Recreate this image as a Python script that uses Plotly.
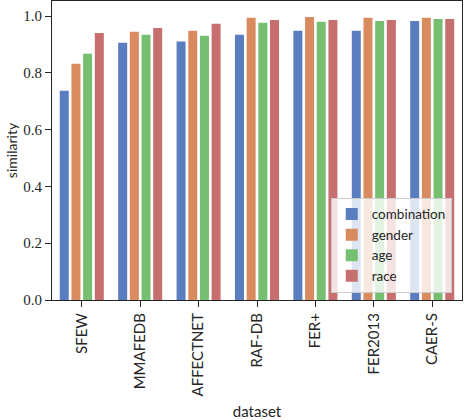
import plotly.graph_objects as go

# similarity per dataset, one list per attribute
datasets = ["SFEW", "MMAFEDB", "AFFECTNET", "RAF-DB", "FER+", "FER2013", "CAER-S"]
combination = [0.737, 0.906, 0.910, 0.934, 0.948, 0.948, 0.983]
gender = [0.832, 0.945, 0.948, 0.994, 0.997, 0.994, 0.994]
age = [0.867, 0.934, 0.931, 0.976, 0.980, 0.983, 0.990]
race = [0.940, 0.958, 0.973, 0.986, 0.986, 0.986, 0.990]

series = [("combination", combination, "#597dbf"),
          ("gender", gender, "#d98b5f"),
          ("age", age, "#76bf71"),
          ("race", race, "#c76e6e")]

sans = "Lato"
serif = "Liberation Serif"

fig = go.Figure()
for name, vals, col in series:
    fig.add_trace(go.Bar(x=datasets, y=vals, name=name,
                         marker=dict(color=col, line=dict(width=0))))

fig.update_layout(
    template="none",
    width=464, height=420,
    margin=dict(l=52, r=2, t=1, b=120),
    paper_bgcolor="white", plot_bgcolor="white",
    barmode="group", bargap=0.2, bargroupgap=0.23,
    font=dict(family=sans, size=14, color="#262626"),
    legend=dict(x=0.975, y=0.024, xanchor="right", yanchor="bottom",
                itemwidth=30,
                bgcolor="rgba(255,255,255,0.8)", bordercolor="#cccccc",
                borderwidth=1, font=dict(family=sans, size=13.5, color="#262626")),
    showlegend=True,
)

fig.update_xaxes(
    range=[-0.51, 6.51], showgrid=False, zeroline=False, automargin=False,
    showline=True, linecolor="#262626", linewidth=1.2, mirror=True,
    ticks="outside", ticklen=6, tickwidth=1.2, tickcolor="#262626",
    tickangle=-90, tickfont=dict(family=sans, size=15, color="#262626"),
    title=dict(text="dataset", font=dict(family=sans, size=15, color="#262626"), standoff=19),
)
fig.update_yaxes(
    range=[0, 1.053], showgrid=False, zeroline=False, automargin=False,
    showline=True, linecolor="#262626", linewidth=1.2, mirror=True,
    ticks="outside", ticklen=6, tickwidth=1.2, tickcolor="#262626",
    tickvals=[0, 0.2, 0.4, 0.6, 0.8, 1.0], tickformat=".1f",
    tickfont=dict(family=serif, size=15, color="#262626"),
    title=dict(text="similarity", font=dict(family=sans, size=14, color="#262626"), standoff=2),
)

fig.write_html("out.html", config={"displayModeBar": False},
               post_script="document.body.style.margin='0';")
